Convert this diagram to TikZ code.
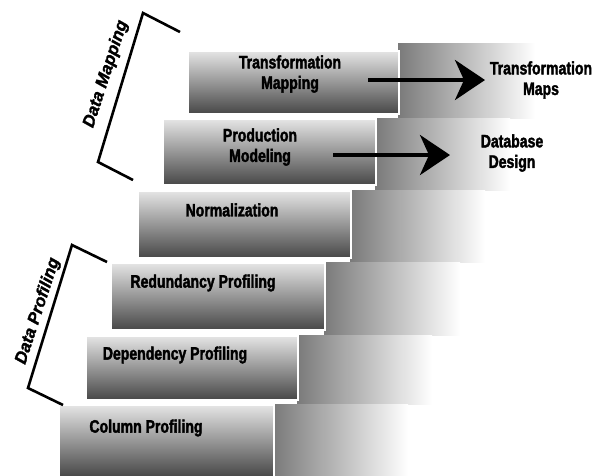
\documentclass[tikz,border=0pt]{standalone}
\usepackage{fontspec}
\setmainfont{Liberation Sans}
\newfontfamily\heavyfont{Liberation Sans Bold}[FakeStretch=0.78, FakeBold=2]
\newfontfamily\brfont{Liberation Sans Bold Italic}[FakeBold=1.5]
\usetikzlibrary{arrows.meta}
\tikzset{
  stepbox/.style={rectangle, draw=white, line width=1.5pt, inner sep=0pt, anchor=north west,
    top color=black!10, middle color=black!38, bottom color=black!72},
  steptext/.style={font=\heavyfont\fontsize{18}{20.5}\selectfont, align=center, inner sep=0pt},
  bracketline/.style={line width=2.6pt, line join=miter},
  brackettext/.style={font=\brfont\fontsize{17}{20}\selectfont, inner sep=0pt, rotate=72},
  bigarrow/.style={line width=4pt, -{Stealth[length=30pt, width=40pt, inset=9pt]}},
  shadowrow/.style={left color=black!52, right color=white}
}
\begin{document}
\begin{tikzpicture}[x=1pt, y=-1pt]
\useasboundingbox (0,0) rectangle (601,475);
% shadow risers
\fill[shadowrow] (398,43) rectangle (535,118);
\fill[shadowrow] (375,118) rectangle (510,190);
\fill[shadowrow] (350,190) rectangle (485,262);
\fill[shadowrow] (324,262) rectangle (460,335);
\fill[shadowrow] (297,335) rectangle (432,404);
\fill[shadowrow] (273,404) rectangle (408,475);
% steps
\node[stepbox, minimum width=211pt, minimum height=63pt] (b0) at (187,50) {};
\node[stepbox, minimum width=213pt, minimum height=66pt] (b1) at (162,118) {};
\node[stepbox, minimum width=213pt, minimum height=67pt] (b2) at (137,190) {};
\node[stepbox, minimum width=214pt, minimum height=67pt] (b3) at (110,262) {};
\node[stepbox, minimum width=212pt, minimum height=64pt] (b4) at (85,335) {};
\node[stepbox, minimum width=215pt, minimum height=72pt] (b5) at (58,404) {};
% step texts
\node[steptext] (t0) at (290,74) {Transformation\\Mapping};
\node[steptext] (t1) at (260,147) {Production\\Modeling};
\node[steptext] (t2) at (232,210) {Normalization};
\node[steptext] (t3) at (203,283) {Redundancy Profiling};
\node[steptext] (t4) at (175,355) {Dependency Profiling};
\node[steptext] (t5) at (146,428) {Column Profiling};
% outputs
\node[steptext] (l0) at (541,80) {Transformation\\Maps};
\node[steptext] (l1) at (512,153) {Database\\Design};
\coordinate (a0s) at (368,80);
\coordinate (a0e) at (485,80);
\coordinate (a1s) at (333,155);
\coordinate (a1e) at (450,155);
\draw[bigarrow] (a0s) -- (a0e);
\draw[bigarrow] (a1s) -- (a1e);
% brackets
\coordinate (m1) at (180,32);
\coordinate (m2) at (143,13);
\coordinate (m3) at (98,162);
\coordinate (m4) at (133,180);
\draw[bracketline] (m1) -- (m2) -- (m3) -- (m4);
\node[brackettext] (dm) at (106,74) {Data Mapping};
\coordinate (p1) at (107,262);
\coordinate (p2) at (72,245);
\coordinate (p3) at (28,388);
\coordinate (p4) at (63,405);
\draw[bracketline] (p1) -- (p2) -- (p3) -- (p4);
\node[brackettext] (dp) at (38,311) {Data Profiling};
\end{tikzpicture}
\end{document}
